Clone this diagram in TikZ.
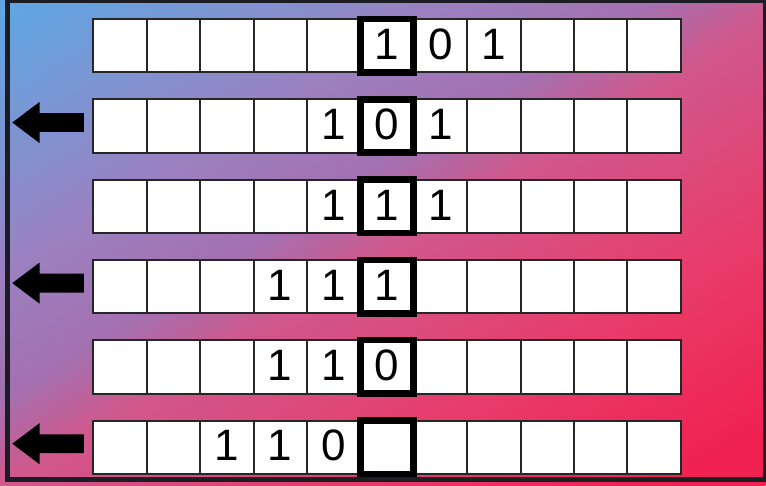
\documentclass[tikz,border=0pt]{standalone}
\usepackage{fontspec}
\usetikzlibrary{shapes.arrows}
\newfontfamily\digitfont{Liberation Sans}

\definecolor{bgA}{HTML}{5EA7E3}
\definecolor{bgB}{HTML}{6AA0DC}
\definecolor{bgC}{HTML}{9C80C0}
\definecolor{bgD}{HTML}{A470B0}
\definecolor{bgE}{HTML}{D0588C}
\definecolor{bgF}{HTML}{E83C6A}
\definecolor{bgG}{HTML}{F02050}
\definecolor{framec}{HTML}{1C1C24}

\pgfdeclarehorizontalshading{tapebg}{100bp}{color(0bp)=(bgA); color(25bp)=(bgA);
  color(28.5bp)=(bgB); color(39.5bp)=(bgC); color(46bp)=(bgD); color(50.5bp)=(bgE);
  color(61.5bp)=(bgF); color(72.5bp)=(bgG); color(100bp)=(bgG)}

\begin{document}
\begin{tikzpicture}[
  x=1pt, y=-1pt,
  cell/.style={draw=black!85, line width=2pt, fill=white, minimum size=53.4pt,
               inner sep=0pt},
  headcell/.style={draw=black, line width=6.5pt, minimum size=53.4pt, inner sep=0pt},
  digit/.style={font=\fontsize{44pt}{44pt}\digitfont, text height=31.5pt,
                text depth=4pt, inner sep=0pt},
  shiftarr/.style={single arrow, fill=black, shape border rotate=180, inner sep=9.2pt,
                   single arrow head extend=11.1pt, single arrow tip angle=74,
                   minimum height=71.5pt, anchor=tail},
]
\useasboundingbox (0,0) rectangle (766,485);

% background, running from blue (top left) to red (bottom right)
\begin{scope}
  \clip (0,0) rectangle (766,485);
  \begin{scope}[transform canvas={shift={(383pt,-242.5pt)}, rotate=-58.6}]
    \shade[shading=tapebg] (-406.6pt,-453.4pt) rectangle (406.6pt,453.4pt);
  \end{scope}
\end{scope}

% tapes
\foreach \r in {0,...,5}
  \foreach \c in {0,...,10}
    \node[cell] (c-\r-\c) at ({120+53.4*\c},{45.7+80.3*\r}) {};

% symbols on the tapes
\foreach \r/\c/\v in {0/5/1, 0/6/0, 0/7/1,
                      1/4/1, 1/5/0, 1/6/1,
                      2/4/1, 2/5/1, 2/6/1,
                      3/3/1, 3/4/1, 3/5/1,
                      4/3/1, 4/4/1, 4/5/0,
                      5/2/1, 5/3/1, 5/4/0}
  \node[digit] (d-\r-\c) at (c-\r-\c) {\v};

% read/write head
\foreach \r in {0,...,5}
  \node[headcell] (h-\r) at (c-\r-5) {};

% tape moves left
\foreach \r in {1,3,5}
  \node[shiftarr] (s-\r) at (84,{42.2+80.3*\r}) {};

\draw[framec, line width=5pt] (7.5,0.5) rectangle (765.5,479.5);
\end{tikzpicture}
\end{document}
